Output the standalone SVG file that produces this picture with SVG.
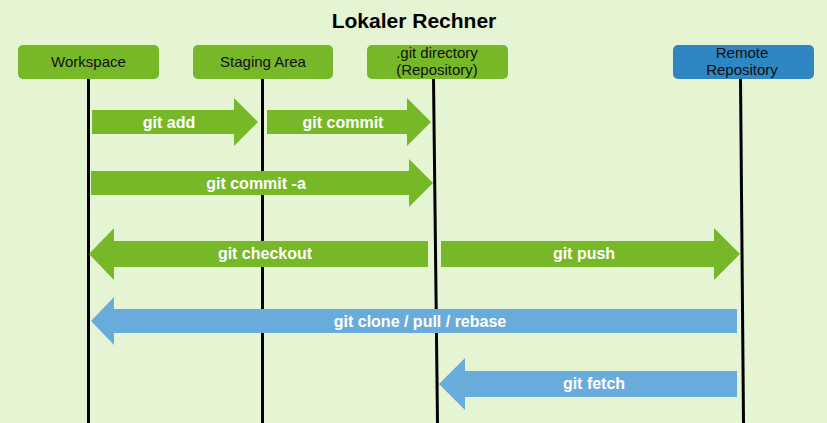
<svg xmlns="http://www.w3.org/2000/svg" width="827" height="423" viewBox="0 0 827 423">
<style>
.node{fill:#77B829}
.remote{fill:#2E86C3}
.nt{font-family:"Liberation Sans",Arial,sans-serif;font-size:15px;fill:#111;text-anchor:middle}
.life{stroke:#000;stroke-width:3;fill:none}
.ga{fill:#77B829}
.ba{fill:#69ACDB}
.at{font-family:"Liberation Sans",Arial,sans-serif;font-size:16px;font-weight:bold;fill:#fff;text-anchor:middle}
</style>
<rect width="827" height="423" fill="#E5F4D2"/>
<text x="414" y="28" font-family="Liberation Sans,Arial,sans-serif" font-size="21" font-weight="bold" fill="#000" text-anchor="middle">Lokaler Rechner</text>
<g id="lifelines">
<line class="life" x1="88.5" y1="78" x2="88.5" y2="423"/>
<line class="life" x1="262.5" y1="78" x2="262.5" y2="423"/>
<line class="life" x1="433.5" y1="78" x2="437.5" y2="423"/>
<line class="life" x1="740.5" y1="78" x2="743.5" y2="423"/>
</g>
<g id="workspace"><rect class="node" x="18" y="45" width="141" height="34" rx="5"/><text class="nt" x="88.5" y="67">Workspace</text></g>
<g id="staging"><rect class="node" x="193" y="45" width="140" height="34" rx="5"/><text class="nt" x="263" y="67">Staging Area</text></g>
<g id="gitdir"><rect class="node" x="367" y="45" width="141" height="34" rx="5"/><text class="nt" x="437" y="58">.git directory</text><text class="nt" x="437" y="75">(Repository)</text></g>
<g id="remote"><rect class="remote" x="673" y="45" width="141" height="34" rx="5"/><text class="nt" x="742" y="58">Remote</text><text class="nt" x="742" y="75">Repository</text></g>
<g id="connectors">
<g id="git-add"><polygon class="ga" points="92,110 234,110 234,98 258,122 234,146 234,134 92,134"/><text class="at" x="169" y="128">git add</text></g>
<g id="git-commit"><polygon class="ga" points="267,110 407,110 407,98 431,122 407,146 407,134 267,134"/><text class="at" x="343" y="128">git commit</text></g>
<g id="git-commit-a"><polygon class="ga" points="91,171 409,171 409,159 433,183 409,207 409,195 91,195"/><text class="at" x="256" y="189">git commit -a</text></g>
<g id="git-checkout"><polygon class="ga" points="428,241 114,241 114,228 89,254 114,280 114,267 428,267"/><text class="at" x="265" y="259">git checkout</text></g>
<g id="git-push"><polygon class="ga" points="441,241 714,241 714,228 740,254 714,280 714,267 441,267"/><text class="at" x="584" y="259">git push</text></g>
<g id="git-clone"><polygon class="ba" points="737,309 114,309 114,297 91,321 114,345 114,333 737,333"/><text class="at" x="420" y="327">git clone / pull / rebase</text></g>
<g id="git-fetch"><polygon class="ba" points="737,371 465,371 465,358 439,384 465,410 465,397 737,397"/><text class="at" x="594" y="389">git fetch</text></g>
</g>
</svg>
